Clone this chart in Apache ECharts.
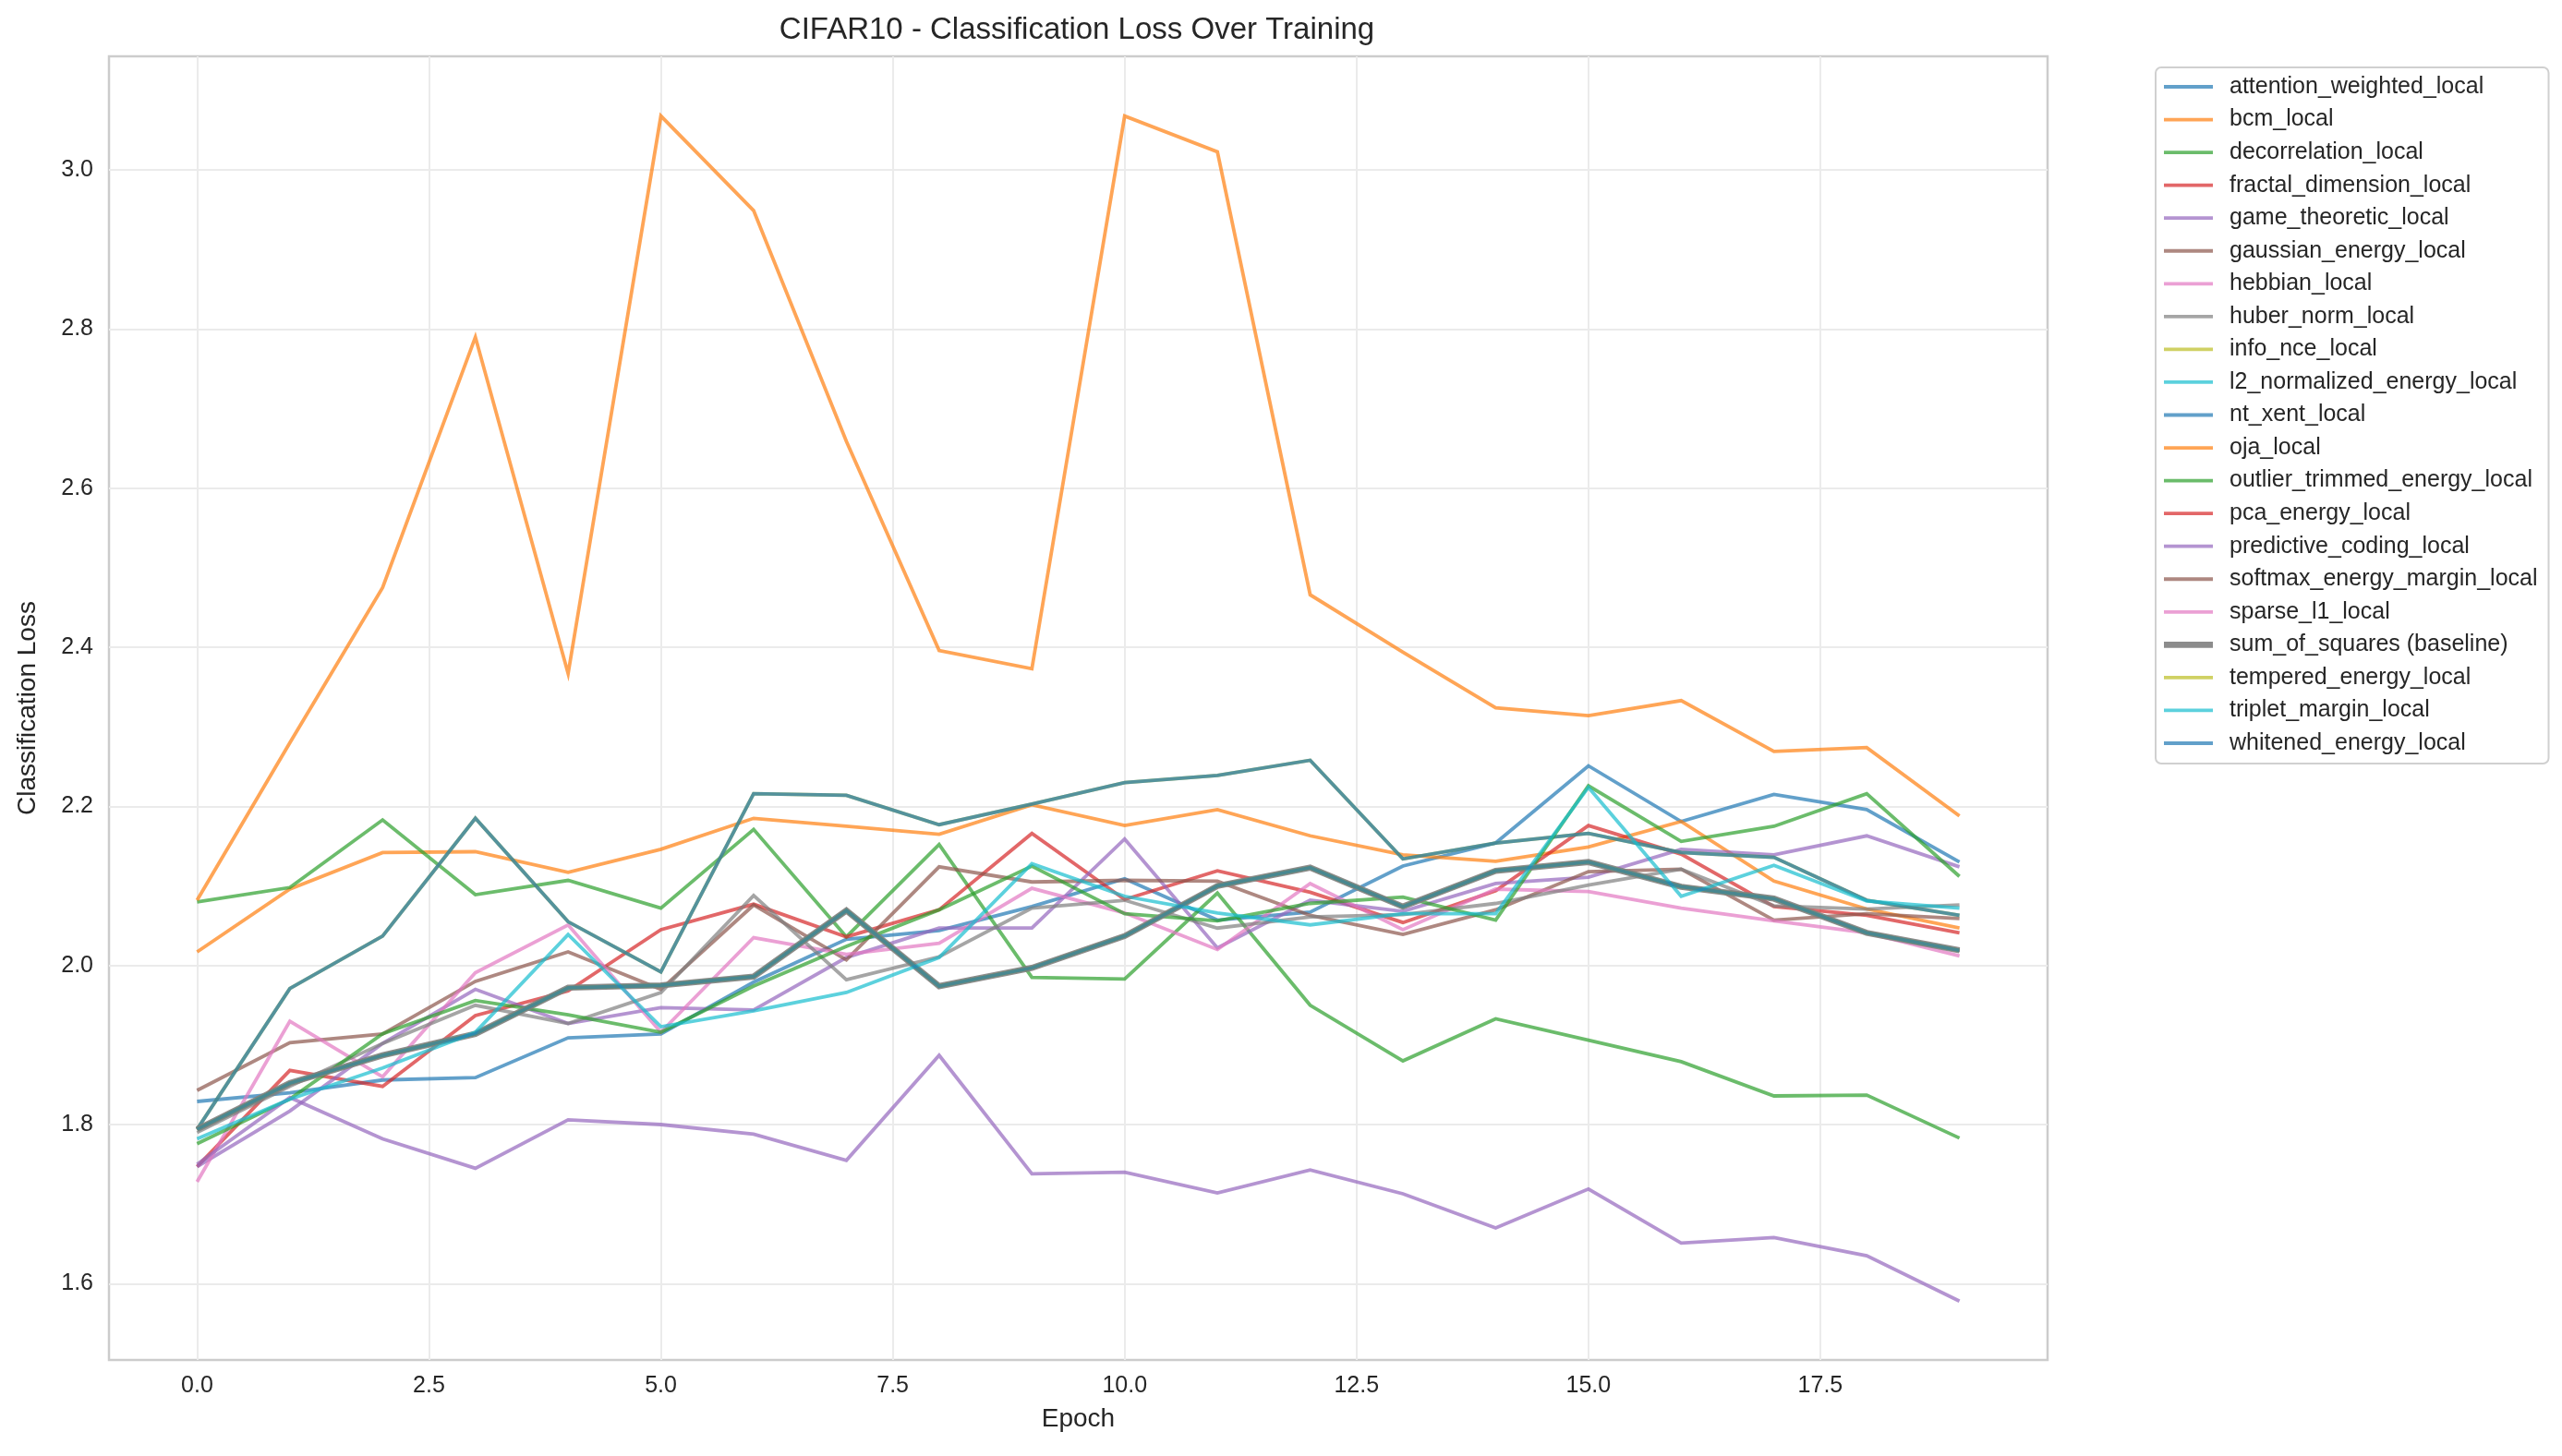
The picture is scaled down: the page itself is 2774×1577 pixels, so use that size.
<!DOCTYPE html>
<html><head><meta charset="utf-8">
<script src="https://cdn.jsdelivr.net/npm/echarts@6/dist/echarts.min.js"></script>
<style>html,body{margin:0;padding:0;background:#fff}#c{width:2774px;height:1577px}</style>
</head><body><div id="c"></div>
<script>
// ---------- data ----------
const epochs = [0,1,2,3,4,5,6,7,8,9,10,11,12,13,14,15,16,17,18,19];
const xTickValues = [0, 2.5, 5, 7.5, 10, 12.5, 15, 17.5];
const yTickValues = [1.6, 1.8, 2.0, 2.2, 2.4, 2.6, 2.8, 3.0];

const attentionWeighted = [1.829,1.840,1.856,1.859,1.909,1.914,1.979,2.033,2.044,2.074,2.109,2.057,2.067,2.125,2.154,2.251,2.181,2.215,2.196,2.130];
const bcm = [2.017,2.096,2.142,2.143,2.117,2.146,2.185,2.175,2.165,2.202,2.176,2.196,2.163,2.139,2.131,2.149,2.181,2.106,2.071,2.047];
const decorrelation = [2.080,2.098,2.183,2.089,2.107,2.072,2.171,2.036,2.152,1.985,1.983,2.091,1.950,1.880,1.933,1.906,1.879,1.836,1.837,1.783];
const fractalDimension = [1.747,1.868,1.848,1.937,1.968,2.045,2.077,2.036,2.070,2.166,2.083,2.119,2.092,2.054,2.094,2.176,2.140,2.074,2.063,2.041];
const gameTheoretic = [1.747,1.817,1.902,1.970,1.927,1.947,1.944,2.010,2.047,2.047,2.159,2.022,2.082,2.068,2.103,2.111,2.146,2.139,2.163,2.124];
const gaussianEnergy = [1.843,1.903,1.914,1.980,2.017,1.970,2.076,2.007,2.124,2.105,2.107,2.106,2.063,2.039,2.070,2.118,2.121,2.057,2.065,2.059];
const hebbian = [1.728,1.930,1.860,1.991,2.051,1.916,2.035,2.014,2.028,2.097,2.066,2.020,2.103,2.045,2.096,2.093,2.072,2.056,2.041,2.012];
const huberNorm = [1.790,1.848,1.902,1.950,1.927,1.966,2.088,1.982,2.011,2.072,2.082,2.047,2.061,2.064,2.078,2.101,2.121,2.075,2.071,2.076];
const infoNce = [1.794,1.971,2.037,2.185,2.055,1.992,2.216,2.214,2.177,2.203,2.230,2.239,2.258,2.134,2.154,2.166,2.142,2.136,2.082,2.063];
const l2Normalized = [1.794,1.852,1.887,1.914,1.972,1.975,1.986,2.069,1.974,1.997,2.037,2.100,2.123,2.074,2.119,2.130,2.099,2.084,2.041,2.019];
const ntXent = [1.794,1.971,2.037,2.185,2.055,1.992,2.216,2.214,2.177,2.203,2.230,2.239,2.258,2.134,2.154,2.166,2.142,2.136,2.082,2.063];
const oja = [2.082,2.280,2.475,2.790,2.367,3.068,2.949,2.659,2.396,2.373,3.068,3.023,2.466,2.394,2.324,2.314,2.333,2.269,2.274,2.188];
const outlierTrimmed = [1.776,1.832,1.914,1.956,1.938,1.916,1.974,2.024,2.070,2.125,2.065,2.056,2.078,2.086,2.057,2.226,2.156,2.175,2.216,2.112];
const pcaEnergy = [1.794,1.852,1.887,1.914,1.972,1.975,1.986,2.069,1.974,1.997,2.037,2.100,2.123,2.074,2.119,2.130,2.099,2.084,2.041,2.019];
const predictiveCoding = [1.750,1.834,1.782,1.745,1.806,1.800,1.788,1.755,1.887,1.738,1.740,1.714,1.743,1.713,1.670,1.719,1.651,1.658,1.635,1.578];
const softmaxEnergyMargin = [1.794,1.852,1.887,1.914,1.972,1.975,1.986,2.069,1.974,1.997,2.037,2.100,2.123,2.074,2.119,2.130,2.099,2.084,2.041,2.019];
const sparseL1 = [1.794,1.852,1.887,1.914,1.972,1.975,1.986,2.069,1.974,1.997,2.037,2.100,2.123,2.074,2.119,2.130,2.099,2.084,2.041,2.019];
const sumOfSquares = [1.794,1.852,1.887,1.914,1.972,1.975,1.986,2.069,1.974,1.997,2.037,2.100,2.123,2.074,2.119,2.130,2.099,2.084,2.041,2.019];
const temperedEnergy = [1.794,1.852,1.887,1.914,1.972,1.975,1.986,2.069,1.974,1.997,2.037,2.100,2.123,2.074,2.119,2.130,2.099,2.084,2.041,2.019];
const tripletMargin = [1.782,1.832,1.871,1.916,2.039,1.923,1.943,1.966,2.010,2.128,2.087,2.066,2.051,2.065,2.065,2.224,2.087,2.126,2.081,2.072];
const whitenedEnergy = [1.794,1.852,1.887,1.914,1.972,1.975,1.986,2.069,1.974,1.997,2.037,2.100,2.123,2.074,2.119,2.130,2.099,2.084,2.041,2.019];

const seriesNames = ['attention_weighted_local','bcm_local','decorrelation_local','fractal_dimension_local','game_theoretic_local','gaussian_energy_local','hebbian_local','huber_norm_local','info_nce_local','l2_normalized_energy_local','nt_xent_local','oja_local','outlier_trimmed_energy_local','pca_energy_local','predictive_coding_local','softmax_energy_margin_local','sparse_l1_local','sum_of_squares (baseline)','tempered_energy_local','triplet_margin_local','whitened_energy_local'];
const seriesValues = [attentionWeighted,bcm,decorrelation,fractalDimension,gameTheoretic,gaussianEnergy,hebbian,huberNorm,infoNce,l2Normalized,ntXent,oja,outlierTrimmed,pcaEnergy,predictiveCoding,softmaxEnergyMargin,sparseL1,sumOfSquares,temperedEnergy,tripletMargin,whitenedEnergy];
const palette = ['31,119,180','255,127,14','44,160,44','214,39,40','148,103,189','140,86,75','227,119,194','127,127,127','188,189,34','23,190,207'];
const baselineName = 'sum_of_squares (baseline)';

// ---------- chart ----------
const FONT = 'Liberation Sans, Arial, sans-serif';
const chart = echarts.init(document.getElementById('c'), null, {renderer: 'canvas'});

const normalIcon = 'path://M0,0L0,0ZM0,5.1L53,5.1L53,8.9L0,8.9ZM66,14L66,14Z';
const thickIcon = 'path://M0,0L0,0ZM0,3.6L53,3.6L53,10.4L0,10.4ZM66,14L66,14Z';

const series = seriesNames.map((name, i) => {
  const isBase = name === baselineName;
  const col = 'rgba(' + palette[i % 10] + ',' + (isBase ? 0.9 : 0.7) + ')';
  return {
    name: name,
    type: 'line',
    data: epochs.map((e, k) => [e, seriesValues[i][k]]),
    symbol: 'none',
    silent: true,
    lineStyle: {color: col, width: isBase ? 6.6 : 3.8, join: 'miter', cap: 'butt'},
    itemStyle: {color: col},
    emphasis: {disabled: true},
    z: 2
  };
});

const option = {
  backgroundColor: '#ffffff',
  animation: false,
  title: {
    text: 'CIFAR10 - Classification Loss Over Training',
    left: 1166, top: 16, padding: 0, textAlign: 'center',
    textStyle: {fontFamily: FONT, fontSize: 33, fontWeight: 'normal', color: '#262626'}
  },
  grid: {
    left: 118, top: 61, width: 2099, height: 1412,
    show: true, borderColor: '#cccccc', borderWidth: 2.5, backgroundColor: 'transparent'
  },
  legend: {
    orient: 'vertical',
    left: 2334, top: 73,
    padding: [8, 12, 9, 9],
    itemWidth: 66, itemHeight: 14, itemGap: 9.55,
    selectedMode: false,
    borderColor: '#d0d0d0', borderWidth: 2, borderRadius: 6,
    backgroundColor: '#ffffff',
    itemStyle: {borderWidth: 0},
    textStyle: {fontFamily: FONT, fontSize: 25, color: '#262626', lineHeight: 26},
    data: seriesNames.map(n => ({name: n, icon: n === baselineName ? thickIcon : normalIcon}))
  },
  xAxis: {
    type: 'value', min: -0.95, max: 19.95,
    name: 'Epoch', nameLocation: 'middle', nameGap: 50,
    nameTextStyle: {fontFamily: FONT, fontSize: 28, color: '#262626'},
    axisLine: {show: false},
    axisTick: {show: false, customValues: xTickValues},
    axisLabel: {customValues: xTickValues, margin: 16, fontFamily: FONT, fontSize: 25, color: '#262626',
      formatter: v => Number(v).toFixed(1)},
    splitLine: {show: true, lineStyle: {color: '#ebebeb', width: 2}}
  },
  yAxis: {
    type: 'value', min: 1.504, max: 3.143,
    name: 'Classification Loss', nameLocation: 'middle', nameGap: 74,
    nameTextStyle: {fontFamily: FONT, fontSize: 28, color: '#262626'},
    axisLine: {show: false},
    axisTick: {show: false, customValues: yTickValues},
    axisLabel: {customValues: yTickValues, margin: 17, fontFamily: FONT, fontSize: 25, color: '#262626',
      formatter: v => Number(v).toFixed(1)},
    splitLine: {show: true, lineStyle: {color: '#ebebeb', width: 2}}
  },
  series: series
};
chart.setOption(option);
</script></body></html>
